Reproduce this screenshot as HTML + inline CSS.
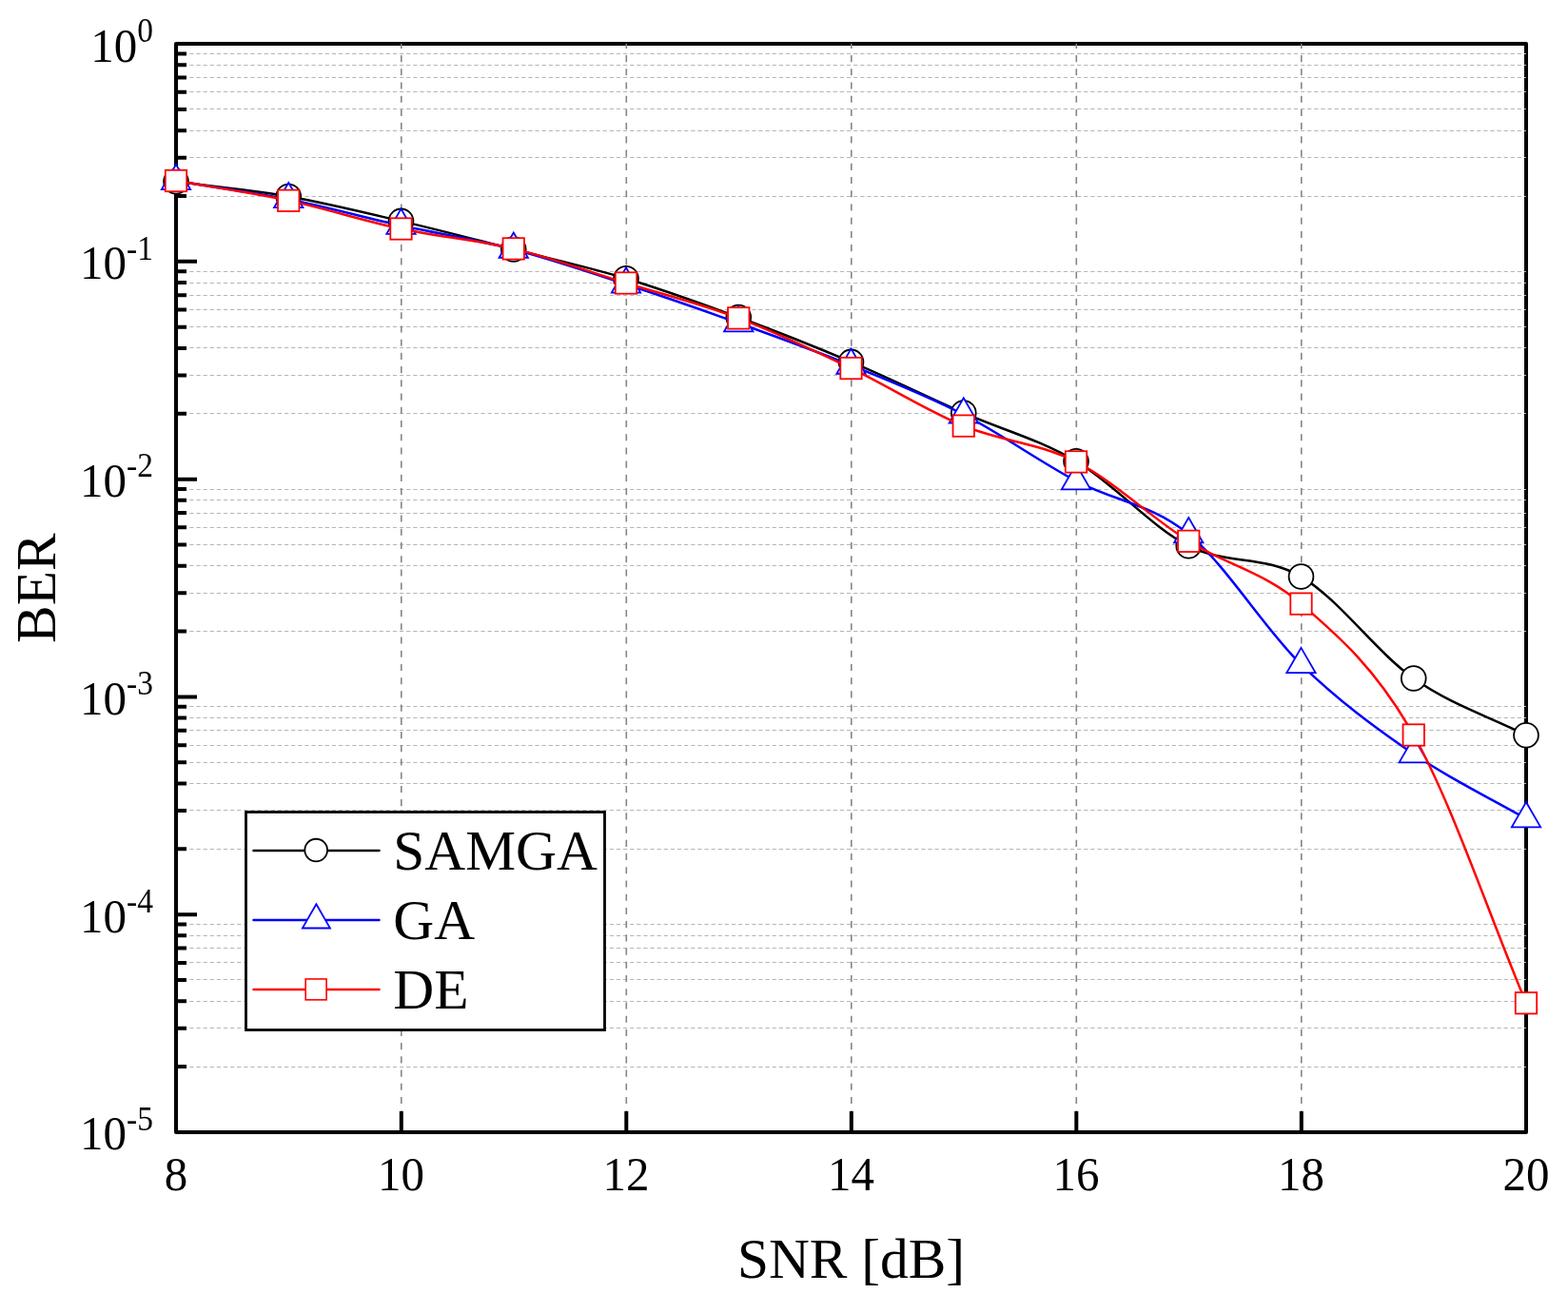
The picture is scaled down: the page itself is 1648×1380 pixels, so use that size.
<!DOCTYPE html><html><head><meta charset="utf-8"><style>html,body{margin:0;padding:0;background:#fff;}svg{display:block;}text{font-family:"Liberation Serif","DejaVu Serif",serif;fill:#000;}</style></head><body>
<svg width="1648" height="1380" viewBox="0 0 1648 1380">
<rect width="1648" height="1380" fill="#fff"/>
<rect x="185" y="46" width="1419" height="1144" fill="none" stroke="#000" stroke-width="4" stroke-linejoin="round"/>
<path d="M185.06 206.5H1604M185.06 165.5H1604M185.06 137.5H1604M185.06 114.5H1604M185.06 96.5H1604M185.06 81.5H1604M185.06 68.5H1604M185.06 56.5H1604M185.06 434.5H1604M185.06 394.5H1604M185.06 365.5H1604M185.06 343.5H1604M185.06 325.5H1604M185.06 310.5H1604M185.06 297.5H1604M185.06 285.5H1604M185.06 663.5H1604M185.06 623.5H1604M185.06 594.5H1604M185.06 572.5H1604M185.06 554.5H1604M185.06 539.5H1604M185.06 525.5H1604M185.06 514.5H1604M185.06 892.5H1604M185.06 851.5H1604M185.06 823.5H1604M185.06 801.5H1604M185.06 783.5H1604M185.06 767.5H1604M185.06 754.5H1604M185.06 742.5H1604M185.06 1121.5H1604M185.06 1080.5H1604M185.06 1052.5H1604M185.06 1029.5H1604M185.06 1011.5H1604M185.06 996.5H1604M185.06 983.5H1604M185.06 971.5H1604" stroke="#b6b6b6" stroke-width="1" stroke-dasharray="4.27 2.85" fill="none"/>
<path d="M421.80 46V1190M658.30 46V1190M894.80 46V1190M1131.30 46V1190M1367.80 46V1190" stroke="#858585" stroke-width="1.6" stroke-dasharray="7.11 7.11" stroke-dashoffset="2.2" fill="none"/>
<path d="M185 46.00h22M185 206.01h11M185 165.73h11M185 137.15h11M185 114.98h11M185 96.87h11M185 81.56h11M185 68.29h11M185 56.59h11M185 274.87h22M185 434.76h11M185 394.48h11M185 365.90h11M185 343.73h11M185 325.62h11M185 310.31h11M185 297.04h11M185 285.34h11M185 503.63h22M185 663.52h11M185 623.23h11M185 594.65h11M185 572.49h11M185 554.37h11M185 539.06h11M185 525.79h11M185 514.09h11M185 732.38h22M185 892.27h11M185 851.99h11M185 823.41h11M185 801.24h11M185 783.13h11M185 767.81h11M185 754.55h11M185 742.84h11M185 961.13h22M185 1121.02h11M185 1080.74h11M185 1052.16h11M185 1029.99h11M185 1011.88h11M185 996.56h11M185 983.30h11M185 971.60h11M185 1190.00h22M421.80 1190v-22M658.30 1190v-22M894.80 1190v-22M1131.30 1190v-22M1367.80 1190v-22" stroke="#000" stroke-width="4" fill="none"/>
<text transform="translate(161 64.52) scale(1 1.045)" font-size="49" text-anchor="end">10<tspan font-size="33.5" dy="-19.8">0</tspan></text>
<text transform="translate(161 293.27) scale(1 1.045)" font-size="49" text-anchor="end">10<tspan font-size="33.5" dy="-19.8">-1</tspan></text>
<text transform="translate(161 522.03) scale(1 1.045)" font-size="49" text-anchor="end">10<tspan font-size="33.5" dy="-19.8">-2</tspan></text>
<text transform="translate(161 750.78) scale(1 1.045)" font-size="49" text-anchor="end">10<tspan font-size="33.5" dy="-19.8">-3</tspan></text>
<text transform="translate(161 979.53) scale(1 1.045)" font-size="49" text-anchor="end">10<tspan font-size="33.5" dy="-19.8">-4</tspan></text>
<text transform="translate(161 1208.28) scale(1 1.045)" font-size="49" text-anchor="end">10<tspan font-size="33.5" dy="-19.8">-5</tspan></text>
<text transform="translate(185.00 1251.10) scale(1 1.045)" font-size="49" text-anchor="middle">8</text>
<text transform="translate(421.50 1251.10) scale(1 1.045)" font-size="49" text-anchor="middle">10</text>
<text transform="translate(658.00 1251.10) scale(1 1.045)" font-size="49" text-anchor="middle">12</text>
<text transform="translate(894.50 1251.10) scale(1 1.045)" font-size="49" text-anchor="middle">14</text>
<text transform="translate(1131.00 1251.10) scale(1 1.045)" font-size="49" text-anchor="middle">16</text>
<text transform="translate(1367.50 1251.10) scale(1 1.045)" font-size="49" text-anchor="middle">18</text>
<text transform="translate(1604.00 1251.10) scale(1 1.045)" font-size="49" text-anchor="middle">20</text>
<text x="894.50" y="1343.2" font-size="59.4" text-anchor="middle">SNR [dB]</text>
<text transform="translate(57.8 618.2) rotate(-90)" x="0" y="0" font-size="59.5" text-anchor="middle">BER</text>
<path d="M185.00 190.80C224.42 196.03 263.83 199.57 303.25 206.50C342.67 213.43 382.08 223.15 421.50 232.40C460.92 241.65 500.33 251.95 539.75 262.00C579.17 272.05 618.58 280.78 658.00 292.70C697.42 304.62 736.83 318.88 776.25 333.50C815.67 348.12 855.08 363.65 894.50 380.40C933.92 397.15 973.33 416.61 1012.75 434.00C1052.17 451.39 1091.58 461.45 1131.00 484.75C1170.42 508.05 1209.83 553.58 1249.25 573.80C1288.67 594.02 1328.08 582.84 1367.50 606.05C1406.92 629.26 1446.33 685.27 1485.75 713.05C1525.17 740.82 1564.58 752.82 1604.00 772.70" fill="none" stroke="#000" stroke-width="2.5"/>
<circle cx="185.00" cy="190.80" r="12.9" fill="#fff" stroke="#000" stroke-width="1.8"/>
<circle cx="303.25" cy="206.50" r="12.9" fill="#fff" stroke="#000" stroke-width="1.8"/>
<circle cx="421.50" cy="232.40" r="12.9" fill="#fff" stroke="#000" stroke-width="1.8"/>
<circle cx="539.75" cy="262.00" r="12.9" fill="#fff" stroke="#000" stroke-width="1.8"/>
<circle cx="658.00" cy="292.70" r="12.9" fill="#fff" stroke="#000" stroke-width="1.8"/>
<circle cx="776.25" cy="333.50" r="12.9" fill="#fff" stroke="#000" stroke-width="1.8"/>
<circle cx="894.50" cy="380.40" r="12.9" fill="#fff" stroke="#000" stroke-width="1.8"/>
<circle cx="1012.75" cy="434.00" r="12.9" fill="#fff" stroke="#000" stroke-width="1.8"/>
<circle cx="1131.00" cy="484.75" r="12.9" fill="#fff" stroke="#000" stroke-width="1.8"/>
<circle cx="1249.25" cy="573.80" r="12.9" fill="#fff" stroke="#000" stroke-width="1.8"/>
<circle cx="1367.50" cy="606.05" r="12.9" fill="#fff" stroke="#000" stroke-width="1.8"/>
<circle cx="1485.75" cy="713.05" r="12.9" fill="#fff" stroke="#000" stroke-width="1.8"/>
<circle cx="1604.00" cy="772.70" r="12.9" fill="#fff" stroke="#000" stroke-width="1.8"/>
<path d="M185.00 190.35C224.42 196.72 263.83 201.67 303.25 209.45C342.67 217.23 382.08 228.29 421.50 237.05C460.92 245.81 500.33 251.71 539.75 262.00C579.17 272.29 618.58 285.87 658.00 298.80C697.42 311.73 736.83 325.40 776.25 339.60C815.67 353.80 855.08 367.98 894.50 384.00C933.92 400.02 973.33 415.49 1012.75 435.75C1052.17 456.01 1091.58 484.59 1131.00 505.55C1170.42 526.51 1209.83 529.37 1249.25 561.50C1288.67 593.63 1328.08 659.84 1367.50 698.35C1406.92 736.86 1446.33 765.52 1485.75 792.55C1525.17 819.58 1564.58 837.88 1604.00 860.55" fill="none" stroke="#00f" stroke-width="2.5"/>
<path d="M185.00 172.85L200.16 199.10L169.84 199.10Z" fill="#fff" stroke="#00f" stroke-width="1.8" stroke-linejoin="miter"/>
<path d="M303.25 191.95L318.41 218.20L288.09 218.20Z" fill="#fff" stroke="#00f" stroke-width="1.8" stroke-linejoin="miter"/>
<path d="M421.50 219.55L436.66 245.80L406.34 245.80Z" fill="#fff" stroke="#00f" stroke-width="1.8" stroke-linejoin="miter"/>
<path d="M539.75 244.50L554.91 270.75L524.59 270.75Z" fill="#fff" stroke="#00f" stroke-width="1.8" stroke-linejoin="miter"/>
<path d="M658.00 281.30L673.16 307.55L642.84 307.55Z" fill="#fff" stroke="#00f" stroke-width="1.8" stroke-linejoin="miter"/>
<path d="M776.25 322.10L791.41 348.35L761.09 348.35Z" fill="#fff" stroke="#00f" stroke-width="1.8" stroke-linejoin="miter"/>
<path d="M894.50 366.50L909.66 392.75L879.34 392.75Z" fill="#fff" stroke="#00f" stroke-width="1.8" stroke-linejoin="miter"/>
<path d="M1012.75 418.25L1027.91 444.50L997.59 444.50Z" fill="#fff" stroke="#00f" stroke-width="1.8" stroke-linejoin="miter"/>
<path d="M1131.00 488.05L1146.16 514.30L1115.84 514.30Z" fill="#fff" stroke="#00f" stroke-width="1.8" stroke-linejoin="miter"/>
<path d="M1249.25 544.00L1264.41 570.25L1234.09 570.25Z" fill="#fff" stroke="#00f" stroke-width="1.8" stroke-linejoin="miter"/>
<path d="M1367.50 680.85L1382.66 707.10L1352.34 707.10Z" fill="#fff" stroke="#00f" stroke-width="1.8" stroke-linejoin="miter"/>
<path d="M1485.75 775.05L1500.91 801.30L1470.59 801.30Z" fill="#fff" stroke="#00f" stroke-width="1.8" stroke-linejoin="miter"/>
<path d="M1604.00 843.05L1619.16 869.30L1588.84 869.30Z" fill="#fff" stroke="#00f" stroke-width="1.8" stroke-linejoin="miter"/>
<path d="M185.00 190.00C224.42 196.95 263.83 202.43 303.25 210.85C342.67 219.27 382.08 232.07 421.50 240.50C460.92 248.93 500.33 251.90 539.75 261.40C579.17 270.90 618.58 285.33 658.00 297.50C697.42 309.67 736.83 319.47 776.25 334.40C815.67 349.32 855.08 368.18 894.50 387.05C933.92 405.92 973.33 431.21 1012.75 447.60C1052.17 463.99 1091.58 465.20 1131.00 485.40C1170.42 505.60 1209.83 543.93 1249.25 568.80C1288.67 593.67 1328.08 600.65 1367.50 634.60C1406.92 668.55 1446.33 702.56 1485.75 772.50C1525.17 842.44 1564.58 960.33 1604.00 1054.25" fill="none" stroke="#f00" stroke-width="2.5"/>
<rect x="173.80" y="178.80" width="22.4" height="22.4" fill="#fff" stroke="#f00" stroke-width="1.8"/>
<rect x="292.05" y="199.65" width="22.4" height="22.4" fill="#fff" stroke="#f00" stroke-width="1.8"/>
<rect x="410.30" y="229.30" width="22.4" height="22.4" fill="#fff" stroke="#f00" stroke-width="1.8"/>
<rect x="528.55" y="250.20" width="22.4" height="22.4" fill="#fff" stroke="#f00" stroke-width="1.8"/>
<rect x="646.80" y="286.30" width="22.4" height="22.4" fill="#fff" stroke="#f00" stroke-width="1.8"/>
<rect x="765.05" y="323.20" width="22.4" height="22.4" fill="#fff" stroke="#f00" stroke-width="1.8"/>
<rect x="883.30" y="375.85" width="22.4" height="22.4" fill="#fff" stroke="#f00" stroke-width="1.8"/>
<rect x="1001.55" y="436.40" width="22.4" height="22.4" fill="#fff" stroke="#f00" stroke-width="1.8"/>
<rect x="1119.80" y="474.20" width="22.4" height="22.4" fill="#fff" stroke="#f00" stroke-width="1.8"/>
<rect x="1238.05" y="557.60" width="22.4" height="22.4" fill="#fff" stroke="#f00" stroke-width="1.8"/>
<rect x="1356.30" y="623.40" width="22.4" height="22.4" fill="#fff" stroke="#f00" stroke-width="1.8"/>
<rect x="1474.55" y="761.30" width="22.4" height="22.4" fill="#fff" stroke="#f00" stroke-width="1.8"/>
<rect x="1592.80" y="1043.05" width="22.4" height="22.4" fill="#fff" stroke="#f00" stroke-width="1.8"/>
<rect x="258.5" y="853.5" width="377" height="229" fill="#fff" stroke="#000" stroke-width="2.8"/>
<path d="M266.5 894.0H398.5" stroke="#000" stroke-width="2.5" stroke-linecap="round" fill="none"/>
<path d="M266.5 966.9H398.5" stroke="#00f" stroke-width="2.5" stroke-linecap="round" fill="none"/>
<path d="M266.5 1040.1H398.5" stroke="#f00" stroke-width="2.5" stroke-linecap="round" fill="none"/>
<circle cx="332.20" cy="893.60" r="11.85" fill="#fff" stroke="#000" stroke-width="1.8"/>
<path d="M332.40 950.30L346.95 975.50L317.85 975.50Z" fill="#fff" stroke="#00f" stroke-width="1.8" stroke-linejoin="miter"/>
<rect x="321.20" y="1028.95" width="21.9" height="21.9" fill="#fff" stroke="#f00" stroke-width="1.6"/>
<text x="413.3" y="913.5" font-size="59.4">SAMGA</text>
<text x="413.3" y="986.5" font-size="59.4">GA</text>
<text x="413.3" y="1060" font-size="59.4">DE</text>
</svg></body></html>
